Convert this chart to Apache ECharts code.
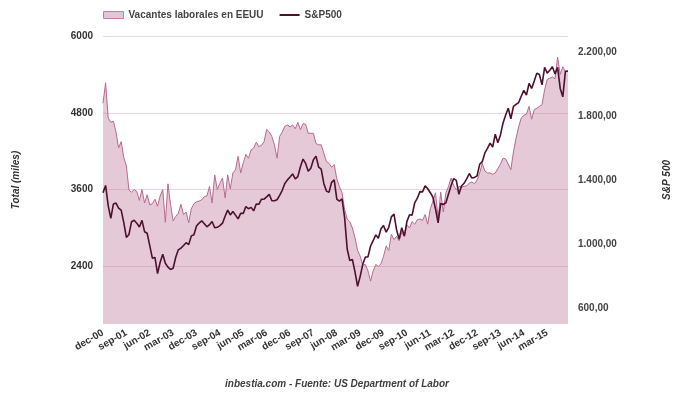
<!DOCTYPE html>
<html><head><meta charset="utf-8">
<script src="https://cdn.jsdelivr.net/npm/echarts@6/dist/echarts.min.js"></script>
<style>html,body{margin:0;padding:0;background:#fff}#c{width:680px;height:400px}</style>
</head><body><div id="c"></div>
<script>
const categories = [
'dec-00',
'jan-01','feb-01','mar-01','apr-01','may-01','jun-01','jul-01','aug-01','sep-01','oct-01','nov-01','dec-01',
'jan-02','feb-02','mar-02','apr-02','may-02','jun-02','jul-02','aug-02','sep-02','oct-02','nov-02','dec-02',
'jan-03','feb-03','mar-03','apr-03','may-03','jun-03','jul-03','aug-03','sep-03','oct-03','nov-03','dec-03',
'jan-04','feb-04','mar-04','apr-04','may-04','jun-04','jul-04','aug-04','sep-04','oct-04','nov-04','dec-04',
'jan-05','feb-05','mar-05','apr-05','may-05','jun-05','jul-05','aug-05','sep-05','oct-05','nov-05','dec-05',
'jan-06','feb-06','mar-06','apr-06','may-06','jun-06','jul-06','aug-06','sep-06','oct-06','nov-06','dec-06',
'jan-07','feb-07','mar-07','apr-07','may-07','jun-07','jul-07','aug-07','sep-07','oct-07','nov-07','dec-07',
'jan-08','feb-08','mar-08','apr-08','may-08','jun-08','jul-08','aug-08','sep-08','oct-08','nov-08','dec-08',
'jan-09','feb-09','mar-09','apr-09','may-09','jun-09','jul-09','aug-09','sep-09','oct-09','nov-09','dec-09',
'jan-10','feb-10','mar-10','apr-10','may-10','jun-10','jul-10','aug-10','sep-10','oct-10','nov-10','dec-10',
'jan-11','feb-11','mar-11','apr-11','may-11','jun-11','jul-11','aug-11','sep-11','oct-11','nov-11','dec-11',
'jan-12','feb-12','mar-12','apr-12','may-12','jun-12','jul-12','aug-12','sep-12','oct-12','nov-12','dec-12',
'jan-13','feb-13','mar-13','apr-13','may-13','jun-13','jul-13','aug-13','sep-13','oct-13','nov-13','dec-13',
'jan-14','feb-14','mar-14','apr-14','may-14','jun-14','jul-14','aug-14','sep-14','oct-14','nov-14','dec-14',
'jan-15','feb-15','mar-15','apr-15','may-15','jun-15','jul-15','aug-15','sep-15','oct-15','nov-15'
];

// Vacantes laborales (miles)
const vacantes = [
4950,5270,4720,4650,4670,4500,4250,4350,4100,3970,3590,3560,
3600,3570,3430,3600,3390,3520,3360,3380,3450,3340,3500,3600,
3090,3690,3370,3110,3180,3230,3370,3210,3250,3080,3300,3380,
3410,3420,3440,3490,3500,3650,3390,3830,3600,3700,3780,3470,
3830,3610,3860,3910,4120,3860,4020,4150,4090,4220,4250,4340,
4270,4290,4350,4540,4500,4430,4300,4090,4430,4500,4590,4610,
4580,4610,4550,4650,4535,4630,4620,4480,4480,4480,4320,4300,
4300,4170,4040,4010,3950,3990,3770,3650,3550,3290,3140,3100,
3000,2850,2650,2560,2420,2430,2330,2170,2330,2430,2400,2440,
2560,2720,2650,2900,2820,2870,2800,2930,2870,3050,3000,3100,
3060,3130,3140,3120,3210,3060,3300,3420,3550,3150,3560,3250,
3550,3650,3780,3660,3600,3650,3640,3650,3660,3700,3720,3690,
3750,3860,4010,3890,3860,3860,3840,3860,3930,4000,4090,4080,
4000,3910,4190,4400,4580,4720,4760,4780,4900,4700,4850,4870,
4900,4930,5160,5320,5340,5360,5330,5670,5400,5520,5440,5450
];

// S&P 500
const sp500 = [
1320.28,
1366.01,1239.94,1160.33,1249.46,1255.82,1224.38,1211.23,1133.58,1040.94,1059.78,1139.45,1148.08,
1130.20,1106.73,1147.39,1076.92,1067.14,989.82,911.62,916.07,815.28,885.76,936.31,879.82,
855.70,841.15,848.18,916.92,963.59,974.50,990.31,1008.01,995.97,1050.71,1058.20,1111.92,
1131.13,1144.94,1126.21,1107.30,1120.68,1140.84,1101.72,1104.24,1114.58,1130.20,1173.82,1211.92,
1181.27,1203.60,1180.59,1156.85,1191.50,1191.33,1234.18,1220.33,1228.81,1207.01,1249.48,1248.29,
1280.08,1280.66,1294.83,1310.61,1270.09,1270.20,1276.66,1303.82,1335.85,1377.94,1400.63,1418.30,
1438.24,1406.82,1420.86,1482.37,1530.62,1503.35,1455.27,1473.99,1526.75,1549.38,1481.14,1468.36,
1378.55,1330.63,1322.70,1385.59,1400.38,1280.00,1267.38,1282.83,1166.36,968.75,896.24,903.25,
825.88,735.09,797.87,872.81,919.14,919.32,987.48,1020.62,1057.08,1036.19,1095.63,1115.10,
1073.87,1104.49,1169.43,1186.69,1089.41,1030.71,1101.60,1049.33,1141.20,1183.26,1180.55,1257.64,
1286.12,1327.22,1325.83,1363.61,1345.20,1320.64,1292.28,1218.89,1131.42,1253.30,1246.96,1257.60,
1312.41,1365.68,1408.47,1397.91,1310.33,1362.16,1379.32,1406.58,1440.67,1412.16,1416.18,1426.19,
1498.11,1514.68,1569.19,1597.57,1630.74,1606.28,1685.73,1632.97,1681.55,1756.54,1805.81,1848.36,
1782.59,1859.45,1872.34,1883.95,1923.57,1960.23,1930.67,2003.37,1972.29,2018.05,2067.56,2058.90,
1994.99,2104.50,2067.89,2085.51,2107.39,2063.11,2103.84,1972.18,1920.03,2079.36,2080.41
];

const leftTicks = [2400, 3600, 4800, 6000];
const rightTicks = [600, 1000, 1400, 1800, 2200];

function esFmt(v) {
  const parts = v.toFixed(2).split('.');
  return parts[0].replace(/\B(?=(\d{3})+(?!\d))/g, '.') + ',' + parts[1];
}

const FONT = '"Liberation Sans", Arial, sans-serif';
const chart = echarts.init(document.getElementById('c'), null, {renderer: 'canvas'});
chart.setOption({
  animation: false,
  backgroundColor: '#ffffff',
  title: {
    text: 'inbestia.com - Fuente: US Department of Labor',
    left: 337, top: 379, textAlign: 'center', padding: 0,
    textStyle: {fontFamily: FONT, fontSize: 10, fontStyle: 'italic', fontWeight: 'bold', color: '#404040'}
  },
  legend: {
    left: 103, top: 10, padding: 0, itemWidth: 20, itemHeight: 7, itemGap: 16,
    textStyle: {fontFamily: FONT, fontSize: 10, fontWeight: 'bold', color: '#444'},
    data: [
      {name: 'Vacantes laborales en EEUU', icon: 'rect',
       itemStyle: {color: '#e3c5d3', borderColor: '#c27fa3', borderWidth: 1}},
      {name: 'S&P500', icon: 'path://M0,0h0.05v0.05h-0.05z M0,2.6h20v1.8h-20z M0,6.95h0.05v0.05h-0.05z',
       itemStyle: {color: '#4d1030'}}
    ]
  },
  grid: {left: 103, right: 110, top: 36, bottom: 76, containLabel: false},
  xAxis: {
    type: 'category', data: categories, boundaryGap: false,
    axisLine: {show: false}, axisTick: {show: false},
    axisLabel: {interval: 8, rotate: 30, margin: 8, fontFamily: FONT, fontSize: 10, fontWeight: 'bold', color: '#333'},
    splitLine: {show: false}
  },
  yAxis: [
    {
      type: 'value', position: 'left', min: 1500, max: 6000, interval: 300,
      name: 'Total (miles)', nameLocation: 'middle', nameGap: 82, nameRotate: 90,
      nameTextStyle: {fontFamily: FONT, fontSize: 10, fontStyle: 'italic', fontWeight: 'bold', color: '#333'},
      axisLine: {show: false}, axisTick: {show: false},
      axisLabel: {margin: 10, fontFamily: FONT, fontSize: 10, fontWeight: 'bold', color: '#333',
        formatter: v => leftTicks.indexOf(v) >= 0 ? String(v) : ''},
      splitLine: {show: true, lineStyle: {width: 1,
        color: ['rgba(0,0,0,0)', 'rgba(0,0,0,0)', 'rgba(0,0,0,0)', '#f0d5e0']}}
    },
    {
      type: 'value', position: 'right', min: 500, max: 2300, interval: 100,
      name: 'S&P 500', nameLocation: 'middle', nameGap: 94, nameRotate: 90,
      nameTextStyle: {fontFamily: FONT, fontSize: 10, fontStyle: 'italic', fontWeight: 'bold', color: '#333'},
      axisLine: {show: false}, axisTick: {show: false},
      axisLabel: {margin: 10, fontFamily: FONT, fontSize: 10, fontWeight: 'bold', color: '#444',
        formatter: v => rightTicks.indexOf(v) >= 0 ? esFmt(v) : ''},
      splitLine: {show: false}
    }
  ],
  series: [
    {
      name: 'Vacantes laborales en EEUU', type: 'line', yAxisIndex: 0, data: vacantes,
      symbol: 'none', showSymbol: false,
      lineStyle: {color: '#b76a92', width: 1},
      itemStyle: {color: '#c27fa3'},
      areaStyle: {color: 'rgb(190,120,155)', opacity: 0.4}
    },
    {
      name: 'S&P500', type: 'line', yAxisIndex: 1, data: sp500,
      symbol: 'none', showSymbol: false,
      lineStyle: {color: '#4d1030', width: 1.6},
      itemStyle: {color: '#4d1030'}
    }
  ]
});
</script></body></html>
